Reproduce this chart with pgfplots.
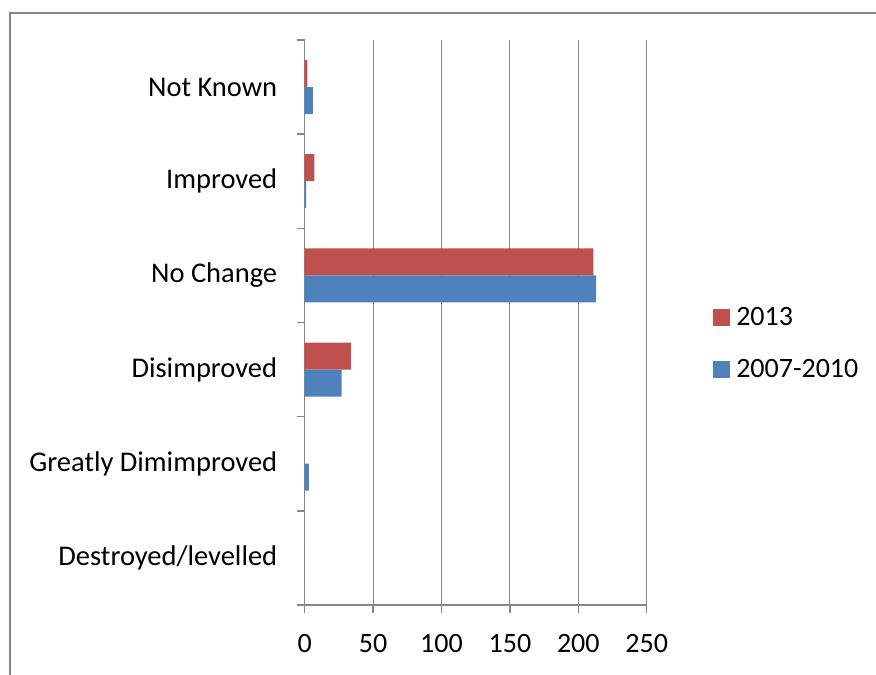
\documentclass[border=0pt]{standalone}
\usepackage{pgfplots}
\pgfplotsset{compat=1.18}
\usepackage{fontspec}
\setmainfont{Carlito}
\definecolor{red13}{RGB}{192,80,77}
\definecolor{blue07}{RGB}{79,129,189}
\definecolor{gridgray}{RGB}{134,134,134}
\begin{document}
\begin{tikzpicture}[x=1pt,y=1pt]
\path[use as bounding box] (0,0) rectangle (876,675);
\draw[gridgray, line width=2pt] (10,0) -- (10,662) -- (878,662);
\begin{axis}[
  at={(304.7pt,70pt)}, anchor=south west,
  scale only axis, width=342pt, height=565pt,
  xmin=0, xmax=250, ymin=-0.5, ymax=5.5,
  xtick={0,50,...,250},
  ytick={-0.5,0.5,...,5.5},
  yticklabels={},
  extra y ticks={0,1,2,3,4,5},
  extra y tick labels={Destroyed/levelled,Greatly Dimimproved,Disimproved,No Change,Improved,Not Known},
  extra y tick style={major tick length=0pt, grid=none, yticklabel style={xshift=-24pt, font=\fontsize{28.5}{30}\selectfont}},
  xticklabel style={yshift=-18pt},
  axis x line*=bottom, axis y line*=left,
  axis line style={gridgray, line width=1.3pt, -},
  xmajorgrids, grid style={gridgray, line width=1pt},
  tick align=outside,
  major tick length=8pt,
  tick style={gridgray, line width=1.5pt},
  tick label style={font=\fontsize{28}{30}\selectfont, text=black},
  /pgf/number format/assume math mode=true,
  legend style={at={(1.194,0.463)}, anchor=west, draw=none, fill=none,
    font=\fontsize{28}{30}\selectfont, row sep=28pt, inner sep=0pt},
  legend cell align=left,
  legend image code/.code={\fill[#1] (0pt,-8.5pt) rectangle (17pt,8.5pt); \path (21pt,0pt);},
]
\addplot[xbar, bar width=27pt, bar shift=13.5pt, fill=red13, draw=none]
  coordinates {(0,0) (0,1) (34,2) (211,3) (7,4) (2,5)};
\addlegendentry{2013}
\addplot[xbar, bar width=27pt, bar shift=-13.5pt, fill=blue07, draw=none]
  coordinates {(0,0) (3,1) (27,2) (213,3) (1,4) (6,5)};
\addlegendentry{2007-2010}
\end{axis}
\end{tikzpicture}
\end{document}
